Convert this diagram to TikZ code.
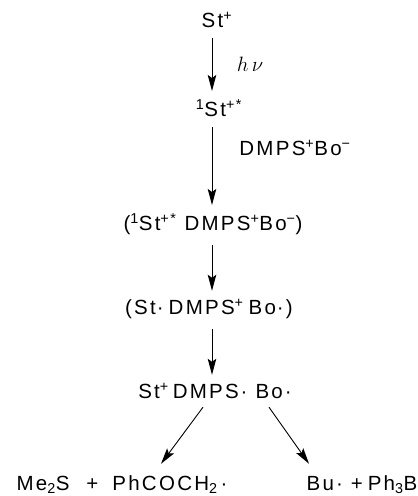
\documentclass[tikz,border=0pt]{standalone}
\usepackage{fontspec}
\setmainfont{Liberation Sans}[LetterSpace=11]
\usetikzlibrary{arrows.meta,calc}

\tikzset{
  species/.style={inner sep=0pt, font=\fontsize{20.5}{24}\selectfont},
  cond/.style={inner sep=0pt, font=\fontsize{20.5}{24}\selectfont},
  rxn/.style={line width=0.9pt, -{Stealth[length=16pt,width=8.5pt,inset=3pt]}},
}
\newcommand{\up}[1]{\textsuperscript{#1}}
\newcommand{\dn}[1]{\textsubscript{#1}}

\begin{document}
\begin{tikzpicture}[x=1pt,y=-1pt]
  \useasboundingbox (0,0) rectangle (418,496);
  \coordinate (axis) at (212,0);

  % species of the sequence
  \node[species] (st)   at (217,20)  {St\up{+}};
  \node[species] (st1)  at (219,108) {\up{1}St\up{+*}};
  \node[species] (cx1)  at (213,224) {(\up{1}St\up{+*}\hspace{8pt}DMPS\up{+}Bo\up{−})};
  \node[species] (cx2)  at (209,309) {(St\kern1pt·\hspace{5pt}DMPS\up{+}\hspace{5pt}Bo\kern1pt·)};
  \node[species] (st3)  at (215,391) {St\up{+}\hspace{4pt}DMPS\kern2pt·\hspace{8pt}Bo\kern2pt·};
  \node[species] (pl)   at (122,485) {Me\dn{2}S\hspace{17pt}+\hspace{14pt}PhCOCH\dn{2}\kern3pt·};
  \node[species] (pr)   at (362,485) {Bu\kern2pt·\hspace{8pt}+\hspace{5pt}Ph\dn{3}B};

  % reaction conditions
  \node[cond] (hv)   at (250,64)  {$h\,\nu$};
  \node[cond] (dmps) at (295,148) {DMPS\up{+}Bo\up{−}};

  % arrows
  \draw[rxn] ($(st.south -| axis)+(0,10)$)  -- ($(st1.north -| axis)+(0,-8)$);
  \draw[rxn] ($(st1.south -| axis)+(0,10)$) -- ($(cx1.north -| axis)+(0,-8)$);
  \draw[rxn] ($(cx1.south -| axis)+(0,10)$) -- ($(cx2.north -| axis)+(0,-8)$);
  \draw[rxn] ($(cx2.south -| axis)+(0,10)$) -- ($(st3.north -| axis)+(0,-8)$);
  \draw[rxn] ($(st3.south)+(-12,8)$) -- ($(pl.north)+(39,-12)$);
  \draw[rxn] ($(st3.south)+(54,8)$)  -- ($(pr.north)+(-53,-12)$);
\end{tikzpicture}
\end{document}
